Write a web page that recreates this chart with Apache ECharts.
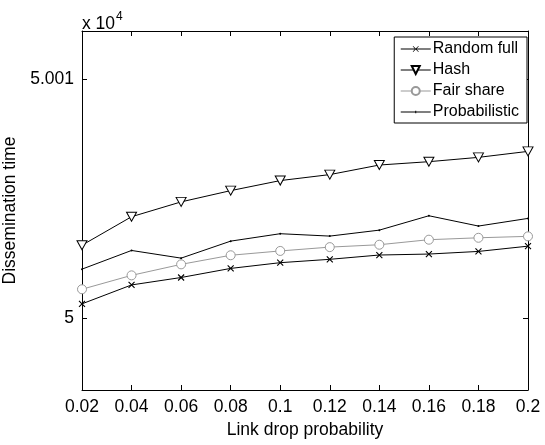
<!DOCTYPE html>
<html>
<head>
<meta charset="utf-8">
<script src="https://cdn.jsdelivr.net/npm/echarts@6/dist/echarts.min.js"></script>
<style>html,body{margin:0;padding:0;background:#fff}#c{width:545px;height:445px}</style>
</head>
<body>
<div id="c"></div>
<script>
// Data (values in units of 10^4)
var categories = ['0.02','0.04','0.06','0.08','0.1','0.12','0.14','0.16','0.18','0.2'];
var randomFull   = [5.000060,5.000139,5.000170,5.000208,5.000232,5.000246,5.000264,5.000268,5.000279,5.000301];
var hashVals     = [5.000305,5.000424,5.000486,5.000533,5.000575,5.000600,5.000640,5.000654,5.000672,5.000697];
var fairShare    = [5.000121,5.000179,5.000225,5.000263,5.000281,5.000297,5.000307,5.000328,5.000336,5.000342];
var probabilistic= [5.000205,5.000283,5.000251,5.000322,5.000353,5.000343,5.000368,5.000428,5.000385,5.000417];
var yTickValues = [5, 5.001];
var yTickLabels = ['5', '5.001'];
var seriesNames = ['Random full','Hash','Fair share','Probabilistic'];

var FONT = '"Liberation Sans", Arial, Helvetica, sans-serif';
var chart = echarts.init(document.getElementById('c'), null, {renderer:'canvas'});
var axisLine = {show:true, lineStyle:{color:'#000', width:1}};
var yMin = 4.9997, yMax = 5.0012;
function yLabel(v){ for (var i=0;i<yTickValues.length;i++){ if (Math.abs(v-yTickValues[i])<1e-9) return yTickLabels[i]; } return ''; }

chart.setOption({
  animation:false,
  backgroundColor:'#fff',
  textStyle:{fontFamily:FONT},
  grid:{left:82, right:17, top:31, bottom:55, containLabel:false, outerBoundsMode:'none'},
  legend:{
    orient:'vertical', right:18, top:37,
    data:[
      {name:seriesNames[0], icon:'path://M0,5.5h30v1h-30z M12,3.6L12.4,3.2L18,8.6L17.6,9z M17.6,3.2L18,3.6L12.4,9L12,8.6z', itemStyle:{borderWidth:0, color:'#000'}},
      {name:seriesNames[1]},
      {name:seriesNames[2]},
      {name:seriesNames[3], icon:'path://M0,5.5h30v1h-30z M14.5,4.8h1v2.4h-1z', itemStyle:{borderWidth:0, color:'#000'}}
    ],
    backgroundColor:'#fff', borderColor:'#000', borderWidth:1,
    padding:[4,8,3,6], itemGap:5, itemWidth:30, itemHeight:10,
    lineStyle:{width:1},
    textStyle:{fontFamily:FONT, fontSize:16, color:'#000', padding:[0,0,0,-3], lineHeight:16}
  },
  graphic:[{
    type:'text', left:82, top:11,
    style:{
      text:'{a|x 10}{b|4}',
      rich:{
        a:{fontFamily:FONT, fontSize:17.5, fill:'#000', verticalAlign:'bottom'},
        b:{fontFamily:FONT, fontSize:12, fill:'#000', padding:[0,0,10,1], verticalAlign:'bottom'}
      }
    }
  }],
  xAxis:[{
    type:'category', data:categories, boundaryGap:false, position:'bottom',
    axisLine:axisLine,
    axisTick:{show:true, inside:true, length:5, lineStyle:{color:'#000'}},
    axisLabel:{color:'#000', fontSize:17.5, fontFamily:FONT, margin:8},
    splitLine:{show:false},
    name:'Link drop probability', nameLocation:'middle', nameGap:31,
    nameTextStyle:{color:'#000', fontSize:17.5, fontFamily:FONT}
  },{
    type:'category', data:categories, boundaryGap:false, position:'top',
    axisLine:axisLine,
    axisTick:{show:true, inside:true, length:5, lineStyle:{color:'#000'}},
    axisLabel:{show:false}, splitLine:{show:false}
  }],
  yAxis:[{
    type:'value', min:yMin, max:yMax, position:'left',
    axisLine:axisLine,
    axisTick:{show:true, inside:true, length:5, lineStyle:{color:'#000'}, customValues:yTickValues},
    axisLabel:{color:'#000', fontSize:17.5, fontFamily:FONT, margin:8, customValues:yTickValues, formatter:yLabel},
    splitLine:{show:false},
    name:'Dissemination time', nameLocation:'middle', nameGap:57,
    nameTextStyle:{color:'#000', fontSize:17.5, fontFamily:FONT}
  },{
    type:'value', min:yMin, max:yMax, position:'right',
    axisLine:axisLine,
    axisTick:{show:true, inside:true, length:5, lineStyle:{color:'#000'}, customValues:yTickValues},
    axisLabel:{show:false}, splitLine:{show:false}
  }],
  series:[{
    name:seriesNames[0], type:'line', data:randomFull,
    symbol:'path://M0,0L10,10M10,0L0,10', symbolSize:6, showAllSymbol:true,
    lineStyle:{color:'#000', width:1},
    itemStyle:{color:'#000', borderColor:'#000', borderWidth:1.1}
  },{
    name:seriesNames[1], type:'line', data:hashVals,
    symbol:'triangle', symbolRotate:180, symbolSize:[10,9], showAllSymbol:true,
    lineStyle:{color:'#000', width:1},
    itemStyle:{color:'#fff', borderColor:'#000', borderWidth:1}
  },{
    name:seriesNames[2], type:'line', data:fairShare,
    symbol:'circle', symbolSize:9, showAllSymbol:true,
    lineStyle:{color:'#999', width:1},
    itemStyle:{color:'#fff', borderColor:'#999', borderWidth:1}
  },{
    name:seriesNames[3], type:'line', data:probabilistic,
    symbol:'circle', symbolSize:2, showAllSymbol:true,
    lineStyle:{color:'#000', width:1},
    itemStyle:{color:'#000', borderColor:'#000', borderWidth:0}
  }]
});
</script>
</body>
</html>
